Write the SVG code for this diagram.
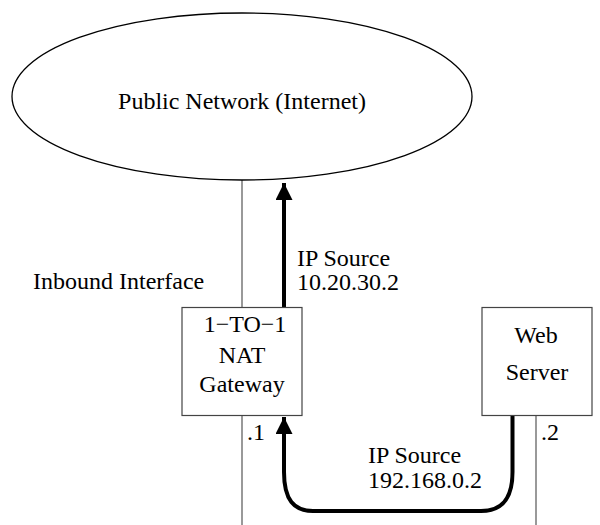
<svg xmlns="http://www.w3.org/2000/svg" width="600" height="525" viewBox="0 0 600 525">
<style>
text{font-family:"Liberation Serif","Times New Roman",serif;font-size:24px;fill:#000}
.thin{stroke:#555;stroke-width:1.2;fill:none}
.box{stroke:#444;stroke-width:1.2;fill:#fff}
.thick{stroke:#000;stroke-width:4;fill:none}
</style>
<defs>
<marker id="ah" markerUnits="userSpaceOnUse" markerWidth="18" markerHeight="18" refX="17" refY="8.5" orient="auto">
<path d="M0,0 L17,8.5 L0,17 Z" fill="#000"/>
</marker>
</defs>
<rect width="600" height="525" fill="#fff"/>
<g id="connectors">
<line class="thin" x1="242" y1="180" x2="242" y2="307"/>
<line class="thin" x1="242" y1="416" x2="242" y2="525"/>
<line class="thin" x1="536" y1="416" x2="536" y2="525"/>
<path class="thick" d="M284,307 L284,183" marker-end="url(#ah)"/>
<path class="thick" d="M512.5,416 L512.5,472 C512.5,500 501,511 481,511 L313,511 C294,511 284,500 284,472 L284,417" marker-end="url(#ah)"/>
</g>
<g id="internet">
<ellipse cx="242" cy="96.5" rx="230" ry="83.5" fill="none" stroke="#000" stroke-width="1.3"/>
<text x="242" y="109" text-anchor="middle">Public Network (Internet)</text>
</g>
<g id="nat">
<rect class="box" x="182" y="307.5" width="120" height="108"/>
<text x="245" y="332" text-anchor="middle">1−TO−1</text>
<text x="242" y="363" text-anchor="middle">NAT</text>
<text x="242" y="392" text-anchor="middle">Gateway</text>
</g>
<g id="web">
<rect class="box" x="482" y="307.5" width="110" height="108"/>
<text x="536" y="343" text-anchor="middle">Web</text>
<text x="537" y="380" text-anchor="middle">Server</text>
</g>
<g id="labels">
<text x="33" y="289">Inbound Interface</text>
<text x="297" y="266">IP Source</text>
<text x="297" y="290">10.20.30.2</text>
<text x="368" y="463">IP Source</text>
<text x="368" y="488">192.168.0.2</text>
<text x="247" y="440">.1</text>
<text x="541" y="440">.2</text>
</g>
</svg>
